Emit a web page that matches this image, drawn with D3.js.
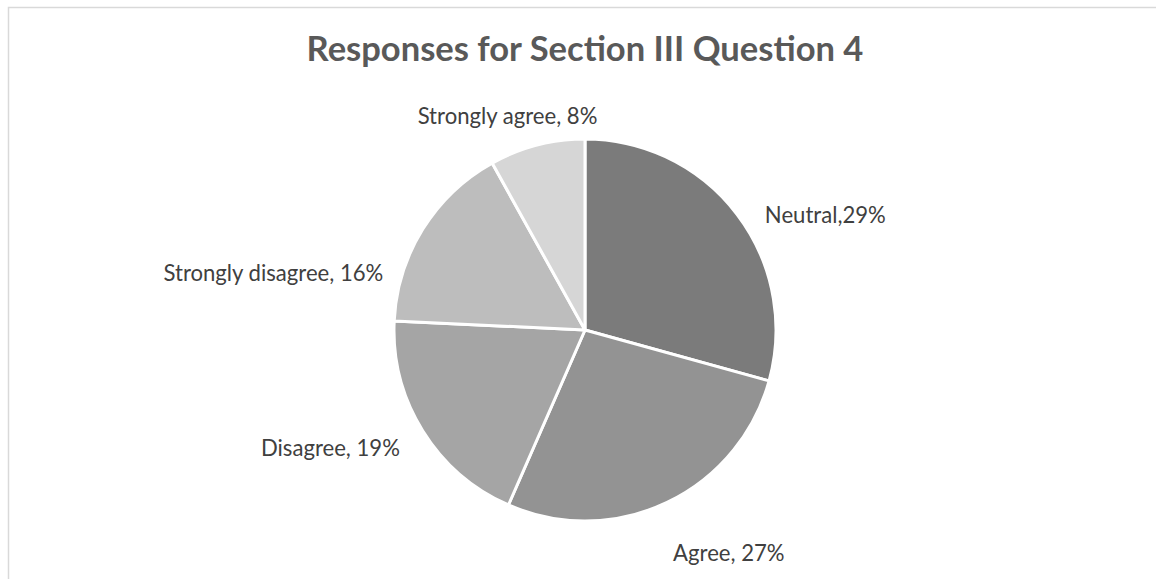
<!DOCTYPE html>
<html>
<head>
<meta charset="utf-8">
<script src="https://cdn.jsdelivr.net/npm/d3@7"></script>
<style>
  html, body { margin: 0; padding: 0; background: #ffffff; }
  svg { display: block; }
</style>
</head>
<body>
<svg id="chart" width="1156" height="579"></svg>
<script>
// Survey responses, in the order the slices run clockwise from 12 o'clock
const categories = ["Neutral", "Agree", "Disagree", "Strongly disagree", "Strongly agree"];
const percentages = [29, 27, 19, 16, 8];
const labelSeparators = [",", ", ", ", ", ", ", ", "];
const sliceColors = ["#7b7b7b", "#939393", "#a5a5a5", "#bdbdbd", "#d6d6d6"];
const chartTitle = "Responses for Section III Question 4";

// Label offsets from the point just outside each slice's middle
const labelNudges = [[74, 12], [54, 35], [-77, 8], [-134, 53], [-25, -11]];

const width = 1156, height = 579;
const cx = 585, cy = 330, radius = 191;
const labelFont = "Lato, 'Open Sans', sans-serif";

const svg = d3.select("#chart");

// Chart-area frame (its right and bottom edges run off the page)
svg.append("rect")
  .attr("x", 8.5).attr("y", 7.5)
  .attr("width", width + 20).attr("height", height + 20)
  .attr("fill", "#ffffff")
  .attr("stroke", "#d9d9d9")
  .attr("stroke-width", 1.5);

// Title, sized to span its place over the chart
const title = svg.append("text")
  .attr("x", cx)
  .attr("y", 61)
  .attr("text-anchor", "middle")
  .attr("font-family", labelFont)
  .attr("font-weight", 700)
  .attr("font-size", 100)
  .attr("fill", "#595959")
  .text(chartTitle);
const titleWidth = 557;
title.attr("font-size", 100 * titleWidth / title.node().getComputedTextLength());

const pie = d3.pie().sort(null).value(d => d)(percentages);
const arc = d3.arc().innerRadius(0).outerRadius(radius);
const outer = d3.arc().innerRadius(radius + 18).outerRadius(radius + 18);

const g = svg.append("g").attr("transform", `translate(${cx},${cy})`);

g.selectAll("path.slice")
  .data(pie)
  .join("path")
  .attr("class", "slice")
  .attr("d", arc)
  .attr("fill", (d, i) => sliceColors[i])
  .attr("stroke", "#ffffff")
  .attr("stroke-width", 3)
  .attr("stroke-linejoin", "round");

// Data labels: "Category, NN%"
const labels = g.selectAll("text.label")
  .data(pie)
  .join("text")
  .attr("class", "label")
  .attr("text-anchor", "middle")
  .attr("dy", "0.35em")
  .attr("font-family", labelFont)
  .attr("font-size", 100)
  .attr("fill", "#404040")
  .attr("x", (d, i) => outer.centroid(d)[0] + labelNudges[i][0])
  .attr("y", (d, i) => outer.centroid(d)[1] + labelNudges[i][1])
  .text((d, i) => `${categories[i]}${labelSeparators[i]}${percentages[i]}%`);

// One font size for every label, matched to the longest label's run
const longest = labels.filter((d, i) => i === 3).node().getComputedTextLength();
labels.attr("font-size", 100 * 220 / longest);
</script>
</body>
</html>
